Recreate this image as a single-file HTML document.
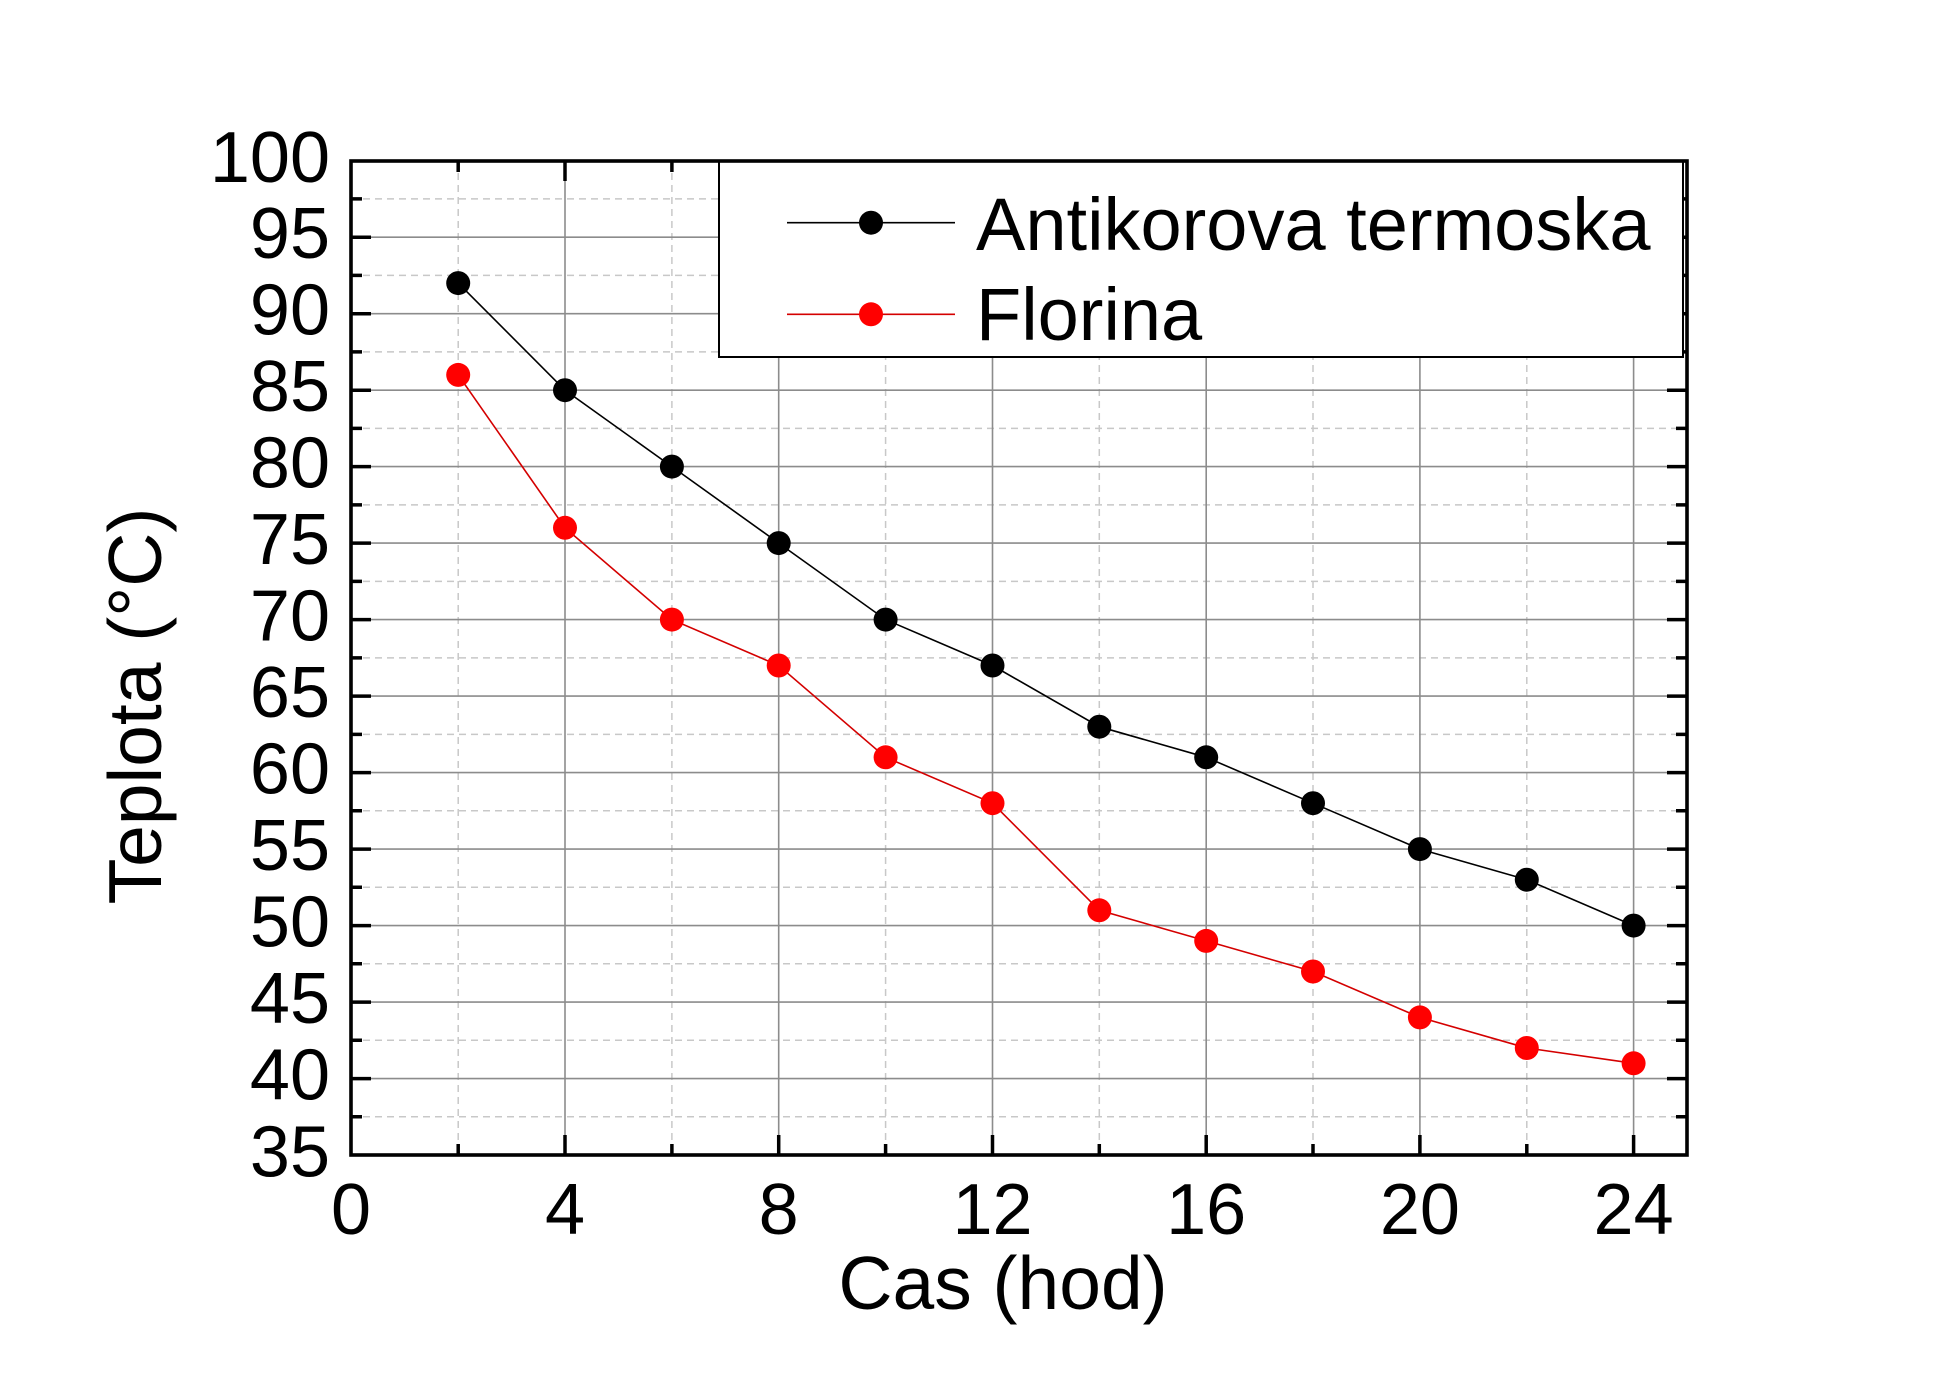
<!DOCTYPE html>
<html><head><meta charset="utf-8"><style>
html,body{margin:0;padding:0;background:#fff;}
svg{display:block;}
text{font-family:"Liberation Sans",Arial,sans-serif;fill:#000;}
</style></head><body>
<svg width="1960" height="1385" viewBox="0 0 1960 1385" xmlns="http://www.w3.org/2000/svg">
<rect width="1960" height="1385" fill="#fff"/>
<!-- minor grid dashed -->
<g stroke="#c8c8c8" stroke-width="1.5" stroke-dasharray="7,5" fill="none">
<line x1="458.2" y1="161" x2="458.2" y2="1155"/>
<line x1="671.9" y1="161" x2="671.9" y2="1155"/>
<line x1="885.6" y1="161" x2="885.6" y2="1155"/>
<line x1="1099.3" y1="161" x2="1099.3" y2="1155"/>
<line x1="1313.0" y1="161" x2="1313.0" y2="1155"/>
<line x1="1526.8" y1="161" x2="1526.8" y2="1155"/>
<line x1="351" y1="198.9" x2="1687" y2="198.9"/>
<line x1="351" y1="275.4" x2="1687" y2="275.4"/>
<line x1="351" y1="351.9" x2="1687" y2="351.9"/>
<line x1="351" y1="428.4" x2="1687" y2="428.4"/>
<line x1="351" y1="504.9" x2="1687" y2="504.9"/>
<line x1="351" y1="581.4" x2="1687" y2="581.4"/>
<line x1="351" y1="657.9" x2="1687" y2="657.9"/>
<line x1="351" y1="734.4" x2="1687" y2="734.4"/>
<line x1="351" y1="810.8" x2="1687" y2="810.8"/>
<line x1="351" y1="887.3" x2="1687" y2="887.3"/>
<line x1="351" y1="963.8" x2="1687" y2="963.8"/>
<line x1="351" y1="1040.3" x2="1687" y2="1040.3"/>
<line x1="351" y1="1116.8" x2="1687" y2="1116.8"/>
</g>
<!-- major grid solid -->
<g stroke="#8c8c8c" stroke-width="1.6" fill="none">
<line x1="565.0" y1="161" x2="565.0" y2="1155"/>
<line x1="778.7" y1="161" x2="778.7" y2="1155"/>
<line x1="992.5" y1="161" x2="992.5" y2="1155"/>
<line x1="1206.2" y1="161" x2="1206.2" y2="1155"/>
<line x1="1419.9" y1="161" x2="1419.9" y2="1155"/>
<line x1="1633.6" y1="161" x2="1633.6" y2="1155"/>
<line x1="351" y1="237.2" x2="1687" y2="237.2"/>
<line x1="351" y1="313.7" x2="1687" y2="313.7"/>
<line x1="351" y1="390.2" x2="1687" y2="390.2"/>
<line x1="351" y1="466.6" x2="1687" y2="466.6"/>
<line x1="351" y1="543.1" x2="1687" y2="543.1"/>
<line x1="351" y1="619.6" x2="1687" y2="619.6"/>
<line x1="351" y1="696.1" x2="1687" y2="696.1"/>
<line x1="351" y1="772.6" x2="1687" y2="772.6"/>
<line x1="351" y1="849.1" x2="1687" y2="849.1"/>
<line x1="351" y1="925.6" x2="1687" y2="925.6"/>
<line x1="351" y1="1002.1" x2="1687" y2="1002.1"/>
<line x1="351" y1="1078.6" x2="1687" y2="1078.6"/>
</g>
<!-- ticks -->
<g stroke="#000" stroke-width="3.5" fill="none">
<path d="M351 237.2h20M351 313.7h20M351 390.2h20M351 466.6h20M351 543.1h20M351 619.6h20M351 696.1h20M351 772.6h20M351 849.1h20M351 925.6h20M351 1002.1h20M351 1078.6h20"/>
<path d="M351 198.9h11M351 275.4h11M351 351.9h11M351 428.4h11M351 504.9h11M351 581.4h11M351 657.9h11M351 734.4h11M351 810.8h11M351 887.3h11M351 963.8h11M351 1040.3h11M351 1116.8h11"/>
<path d="M1687 237.2h-20M1687 313.7h-20M1687 390.2h-20M1687 466.6h-20M1687 543.1h-20M1687 619.6h-20M1687 696.1h-20M1687 772.6h-20M1687 849.1h-20M1687 925.6h-20M1687 1002.1h-20M1687 1078.6h-20"/>
<path d="M1687 198.9h-11M1687 275.4h-11M1687 351.9h-11M1687 428.4h-11M1687 504.9h-11M1687 581.4h-11M1687 657.9h-11M1687 734.4h-11M1687 810.8h-11M1687 887.3h-11M1687 963.8h-11M1687 1040.3h-11M1687 1116.8h-11"/>
<path d="M565.0 1155v-20M778.7 1155v-20M992.5 1155v-20M1206.2 1155v-20M1419.9 1155v-20M1633.6 1155v-20"/>
<path d="M458.2 1155v-11M671.9 1155v-11M885.6 1155v-11M1099.3 1155v-11M1313.0 1155v-11M1526.8 1155v-11"/>
<path d="M565.0 161v20M778.7 161v20M992.5 161v20M1206.2 161v20M1419.9 161v20M1633.6 161v20"/>
<path d="M458.2 161v11M671.9 161v11M885.6 161v11M1099.3 161v11M1313.0 161v11M1526.8 161v11"/>
</g>
<!-- series black -->
<polyline fill="none" stroke="#000" stroke-width="1.6" points="458.2,283.1 565.0,390.2 671.9,466.6 778.7,543.1 885.6,619.6 992.5,665.5 1099.3,726.7 1206.2,757.3 1313.0,803.2 1419.9,849.1 1526.8,879.7 1633.6,925.6"/>
<g fill="#000">
<circle cx="458.2" cy="283.1" r="12"/><circle cx="565.0" cy="390.2" r="12"/><circle cx="671.9" cy="466.6" r="12"/><circle cx="778.7" cy="543.1" r="12"/><circle cx="885.6" cy="619.6" r="12"/><circle cx="992.5" cy="665.5" r="12"/><circle cx="1099.3" cy="726.7" r="12"/><circle cx="1206.2" cy="757.3" r="12"/><circle cx="1313.0" cy="803.2" r="12"/><circle cx="1419.9" cy="849.1" r="12"/><circle cx="1526.8" cy="879.7" r="12"/><circle cx="1633.6" cy="925.6" r="12"/>
</g>
<!-- series red -->
<polyline fill="none" stroke="#d40000" stroke-width="1.6" points="458.2,374.9 565.0,527.8 671.9,619.6 778.7,665.5 885.6,757.3 992.5,803.2 1099.3,910.3 1206.2,940.9 1313.0,971.5 1419.9,1017.4 1526.8,1048.0 1633.6,1063.3"/>
<g fill="#f00">
<circle cx="458.2" cy="374.9" r="12"/><circle cx="565.0" cy="527.8" r="12"/><circle cx="671.9" cy="619.6" r="12"/><circle cx="778.7" cy="665.5" r="12"/><circle cx="885.6" cy="757.3" r="12"/><circle cx="992.5" cy="803.2" r="12"/><circle cx="1099.3" cy="910.3" r="12"/><circle cx="1206.2" cy="940.9" r="12"/><circle cx="1313.0" cy="971.5" r="12"/><circle cx="1419.9" cy="1017.4" r="12"/><circle cx="1526.8" cy="1048.0" r="12"/><circle cx="1633.6" cy="1063.3" r="12"/>
</g>
<!-- legend -->
<rect x="719" y="161" width="964" height="196" fill="#fff" stroke="#000" stroke-width="2"/>
<line x1="787" y1="222.7" x2="955" y2="222.7" stroke="#000" stroke-width="1.6"/>
<circle cx="871" cy="222.7" r="12" fill="#000"/>
<line x1="787" y1="314.3" x2="955" y2="314.3" stroke="#d40000" stroke-width="1.6"/>
<circle cx="871" cy="314.3" r="12" fill="#f00"/>
<text x="976" y="250" font-size="74">Antikorova termoska</text>
<text x="976" y="340" font-size="74">Florina</text>
<!-- frame -->
<rect x="351" y="161" width="1336" height="994" fill="none" stroke="#000" stroke-width="3.6"/>
<!-- y tick labels -->
<g font-size="72" text-anchor="end">
<text x="330" y="182">100</text>
<text x="330" y="258.2">95</text>
<text x="330" y="334.7">90</text>
<text x="330" y="411.2">85</text>
<text x="330" y="487.6">80</text>
<text x="330" y="564.1">75</text>
<text x="330" y="640.6">70</text>
<text x="330" y="717.1">65</text>
<text x="330" y="793.6">60</text>
<text x="330" y="870.1">55</text>
<text x="330" y="946.6">50</text>
<text x="330" y="1023.1">45</text>
<text x="330" y="1099.6">40</text>
<text x="330" y="1176.5">35</text>
</g>
<!-- x tick labels -->
<g font-size="72" text-anchor="middle">
<text x="351" y="1234">0</text>
<text x="565.0" y="1234">4</text>
<text x="778.7" y="1234">8</text>
<text x="992.5" y="1234">12</text>
<text x="1206.2" y="1234">16</text>
<text x="1419.9" y="1234">20</text>
<text x="1633.6" y="1234">24</text>
</g>
<!-- axis titles -->
<text x="1003" y="1309" font-size="75" text-anchor="middle">Cas (hod)</text>
<text transform="translate(161,706) rotate(-90)" font-size="75" text-anchor="middle">Teplota (°C)</text>
</svg>
</body></html>
